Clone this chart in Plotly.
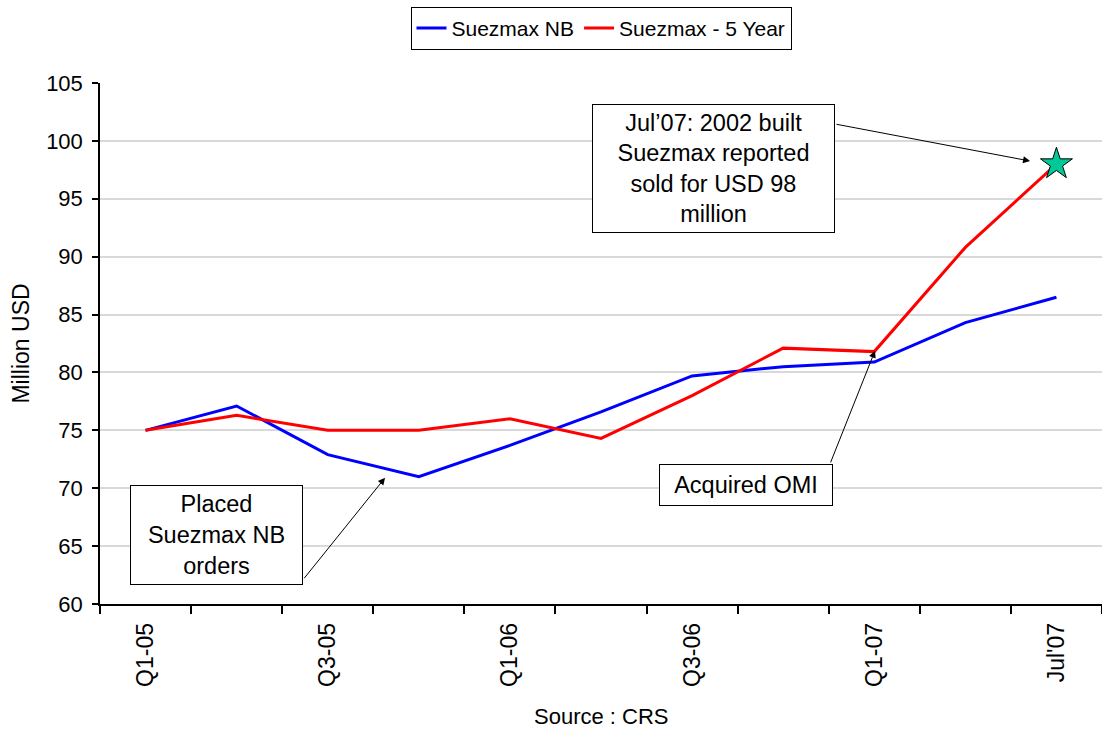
import plotly.graph_objects as go

categories = ["Q1-05", "Q2-05", "Q3-05", "Q4-05", "Q1-06", "Q2-06",
              "Q3-06", "Q4-06", "Q1-07", "Q2-07", "Jul'07"]
tick_labels = ["Q1-05", "", "Q3-05", "", "Q1-06", "", "Q3-06", "", "Q1-07", "", "Jul'07"]
suezmax_nb = [75.0, 77.1, 72.9, 71.0, 73.7, 76.6, 79.7, 80.5, 80.9, 84.3, 86.5]
suezmax_5y = [75.0, 76.3, 75.0, 75.0, 76.0, 74.3, 78.0, 82.1, 81.8, 90.8, 98.0]
star_category = ["Jul'07"]
star_value = [98.0]

FONT = "Liberation Sans, Arial, sans-serif"

fig = go.Figure()
fig.add_trace(go.Scatter(x=categories, y=suezmax_nb, mode="lines", name="Suezmax NB",
                         line=dict(color="#0000FF", width=3)))
fig.add_trace(go.Scatter(x=categories, y=suezmax_5y, mode="lines", name="Suezmax - 5 Year",
                         line=dict(color="#FF0000", width=3)))
fig.add_trace(go.Scatter(x=star_category, y=star_value, mode="markers", showlegend=False,
                         marker=dict(symbol="star", size=24, color="#00C896",
                                     line=dict(color="black", width=1))))

ann_font = dict(family=FONT, size=23.5, color="black")
annotations = [
    # text boxes
    dict(x=6.235, y=97.6, xref="x", yref="y", showarrow=False,
         text="Jul\u201907: 2002 built<br>Suezmax reported<br>sold for USD 98<br>million",
         width=241, height=127, bordercolor="black", borderwidth=1, borderpad=0,
         bgcolor="white", font=ann_font, align="center"),
    dict(x=0.779, y=65.98, xref="x", yref="y", showarrow=False,
         text="Placed<br>Suezmax NB<br>orders",
         width=171, height=98, bordercolor="black", borderwidth=1, borderpad=0,
         bgcolor="white", font=ann_font, align="center"),
    dict(x=6.592, y=70.3, xref="x", yref="y", showarrow=False,
         text="Acquired OMI",
         width=172, height=40, bordercolor="black", borderwidth=1, borderpad=0,
         bgcolor="white", font=ann_font, align="center"),
    # arrows
    dict(x=9.71, y=98.26, ax=7.569, ay=101.46, xref="x", yref="y", axref="x", ayref="y",
         text="", showarrow=True, arrowhead=2, arrowsize=1.4, arrowwidth=1, arrowcolor="black"),
    dict(x=2.629, y=70.9, ax=1.729, ay=62.1, xref="x", yref="y", axref="x", ayref="y",
         text="", showarrow=True, arrowhead=2, arrowsize=1.4, arrowwidth=1, arrowcolor="black"),
    dict(x=8.008, y=81.87, ax=7.514, ay=72.1, xref="x", yref="y", axref="x", ayref="y",
         text="", showarrow=True, arrowhead=2, arrowsize=1.4, arrowwidth=1, arrowcolor="black"),
    # axis titles
    dict(x=-0.0798, y=0.5, xref="paper", yref="paper", showarrow=False, textangle=-90,
         text="Million USD", font=dict(family=FONT, size=23, color="black"),
         xanchor="center", yanchor="middle"),
    dict(x=0.5, y=-0.2155, xref="paper", yref="paper", showarrow=False,
         text="Source : CRS", font=dict(family=FONT, size=22, color="black"),
         xanchor="center", yanchor="middle"),
]

fig.update_layout(
    width=1102, height=731,
    margin=dict(l=100, r=0, t=83, b=127),
    paper_bgcolor="white", plot_bgcolor="white",
    font=dict(family=FONT, size=21, color="black"),
    showlegend=True,
    legend=dict(orientation="h", x=0.5, xanchor="center", y=1.146, yanchor="top",
                bordercolor="black", borderwidth=1, bgcolor="white",
                font=dict(family=FONT, size=21, color="black"),
                itemwidth=30, tracegroupgap=0),
    annotations=annotations,
    xaxis=dict(type="category", categoryorder="array", categoryarray=categories,
               tickmode="array", tickvals=categories, ticktext=tick_labels,
               tickson="boundaries", ticks="outside", ticklen=8, tickwidth=1.5,
               tickcolor="black", tickangle=-90, showgrid=False, zeroline=False,
               showline=True, linecolor="black", linewidth=1.5, ticklabelstandoff=8,
               range=[-0.5, 10.5], tickfont=dict(family=FONT, size=23, color="black")),
    yaxis=dict(range=[60, 105], dtick=5, tick0=60, ticks="outside", ticklen=6, tickwidth=1.5,
               tickcolor="black", showgrid=True, gridcolor="#d9d9d9", gridwidth=1.5,
               zeroline=False, showline=True, linecolor="black", linewidth=1.5,
               ticklabelstandoff=5,
               tickfont=dict(family=FONT, size=22, color="black")),
)

fig.write_html("out.html", config={"displayModeBar": False},
               post_script="document.body.style.margin='0px';")
